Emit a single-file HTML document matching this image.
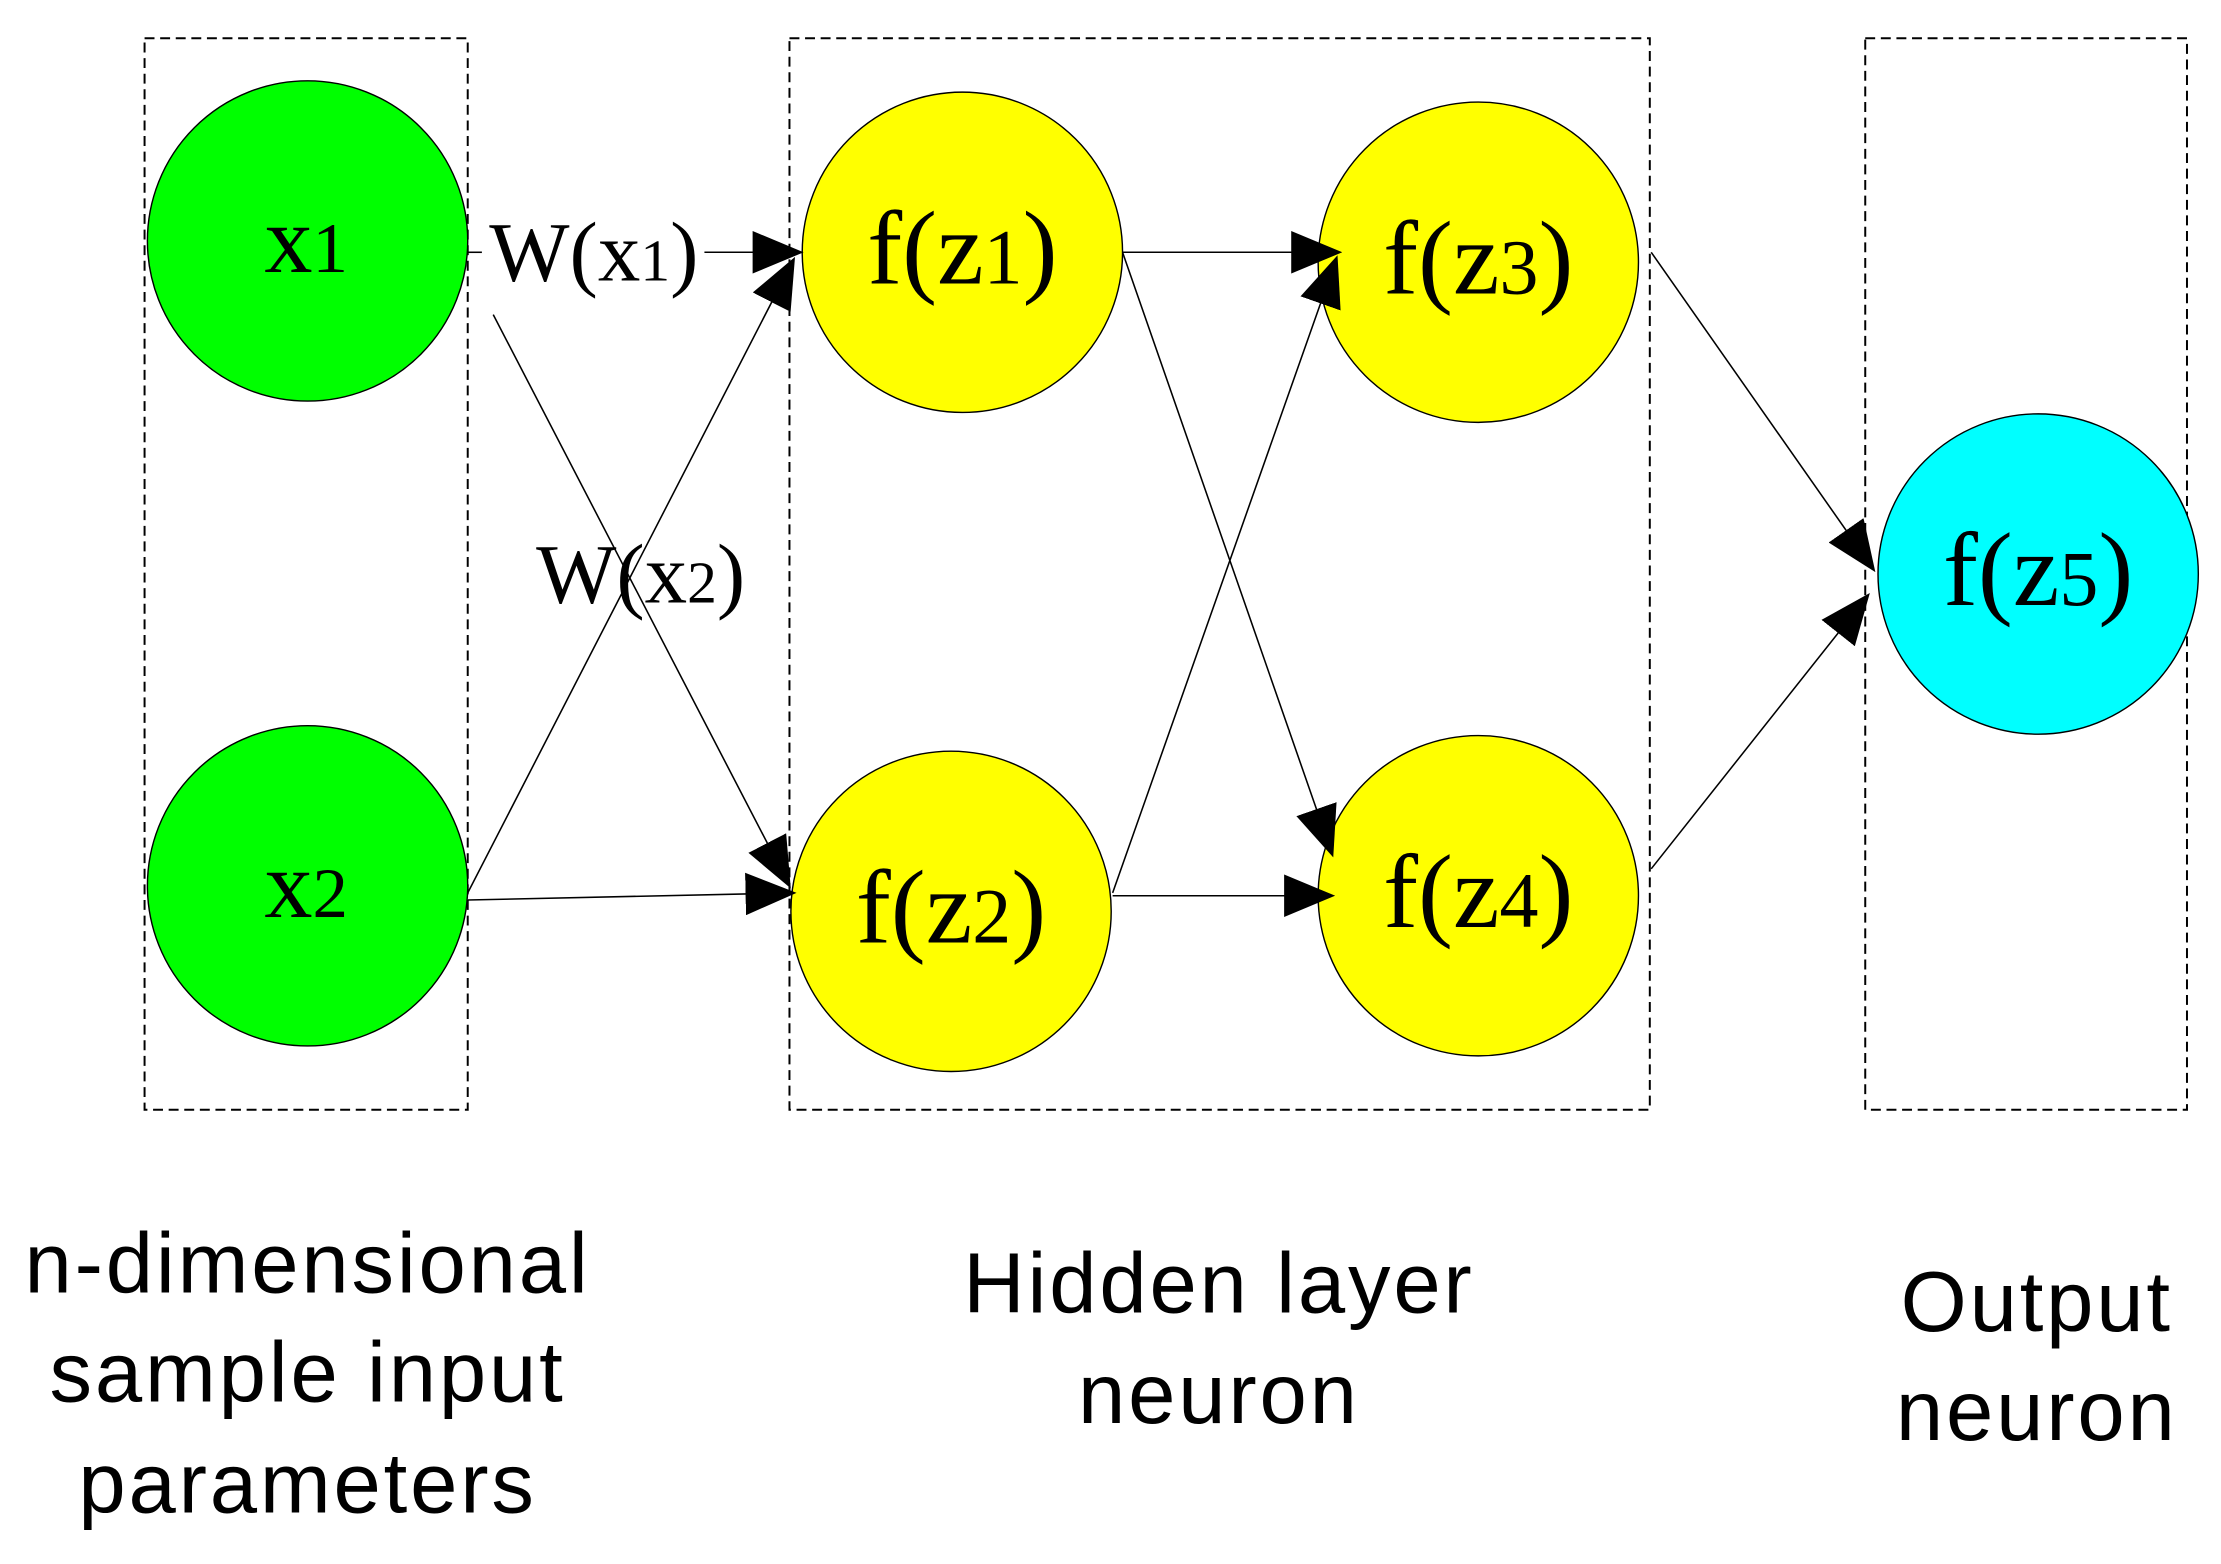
<!DOCTYPE html>
<html><head><meta charset="utf-8"><style>
html,body{margin:0;padding:0;background:#fff;}
svg{display:block;}
</style></head><body>
<svg width="2221" height="1564" viewBox="0 0 1567 1103.5" preserveAspectRatio="none" xmlns="http://www.w3.org/2000/svg">
<defs>
<marker id="a" markerWidth="36" markerHeight="30" refX="34" refY="15" orient="auto" markerUnits="userSpaceOnUse">
<path d="M0,0 L36,15 L0,30 Z" fill="#000"/>
</marker>
</defs>
<g fill="none" stroke="#000" stroke-width="1.4" stroke-dasharray="7,4">
<rect x="102" y="27" width="228" height="756"/>
<rect x="557" y="27" width="607" height="756"/>
<rect x="1316" y="27" width="227" height="756"/>
</g>
<g stroke="#000" stroke-width="1">
<circle cx="217" cy="170" r="113" fill="#00ff00"/>
<circle cx="217" cy="625" r="113" fill="#00ff00"/>
<circle cx="679" cy="178" r="113" fill="#ffff00"/>
<circle cx="671" cy="643" r="113" fill="#ffff00"/>
<circle cx="1043" cy="185" r="113" fill="#ffff00"/>
<circle cx="1043" cy="632" r="113" fill="#ffff00"/>
<circle cx="1438" cy="405" r="113" fill="#00ffff"/>
</g>
<g stroke="#000" stroke-width="1.1" fill="none">
<line x1="330" y1="178" x2="340" y2="178"/>
<line x1="497" y1="178" x2="565" y2="178" marker-end="url(#a)"/>
<line x1="348" y1="222" x2="557" y2="625" marker-end="url(#a)"/>
<line x1="330" y1="630" x2="560" y2="183" marker-end="url(#a)"/>
<line x1="330" y1="635" x2="560" y2="630" marker-end="url(#a)"/>
<line x1="792" y1="178" x2="945" y2="178" marker-end="url(#a)"/>
<line x1="792" y1="178" x2="940" y2="603" marker-end="url(#a)"/>
<line x1="785" y1="630" x2="943" y2="182" marker-end="url(#a)"/>
<line x1="785" y1="632" x2="940" y2="632" marker-end="url(#a)"/>
<line x1="1165" y1="178" x2="1322" y2="402" marker-end="url(#a)"/>
<line x1="1165" y1="613" x2="1318" y2="420" marker-end="url(#a)"/>
</g>
<g font-family="'Liberation Serif', serif" fill="#000" text-anchor="middle">
<text x="216" y="192" font-size="68">x<tspan font-size="50">1</tspan></text>
<text x="216" y="647" font-size="68">x<tspan font-size="50">2</tspan></text>
<text x="679" y="200" font-size="74">f(z<tspan font-size="55">1</tspan>)</text>
<text x="671" y="665" font-size="74">f(z<tspan font-size="55">2</tspan>)</text>
<text x="1043" y="207" font-size="74">f(z<tspan font-size="55">3</tspan>)</text>
<text x="1043" y="654" font-size="74">f(z<tspan font-size="55">4</tspan>)</text>
<text x="1438" y="427" font-size="74">f(z<tspan font-size="55">5</tspan>)</text>
<text x="419" y="198" font-size="60">W(x<tspan font-size="42">1</tspan>)</text>
<text x="452" y="425" font-size="60">W(x<tspan font-size="42">2</tspan>)</text>
</g>
<g font-family="'Liberation Sans', 'Noto Sans CJK SC', sans-serif" font-size="60" fill="#000" text-anchor="middle" letter-spacing="2">
<text x="217" y="912">n-dimensional</text>
<text x="217" y="989">sample input</text>
<text x="217" y="1067">parameters</text>
<text x="860" y="926">Hidden layer</text>
<text x="860" y="1004">neuron</text>
<text x="1437" y="939">Output</text>
<text x="1437" y="1016">neuron</text>
</g>
</svg>
</body></html>
